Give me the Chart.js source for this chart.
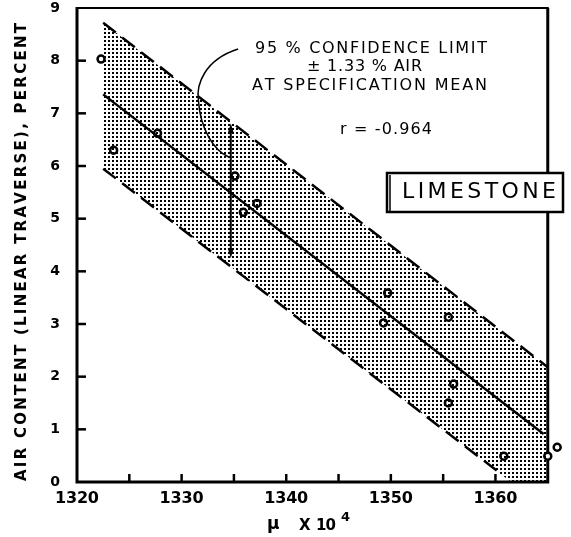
<!DOCTYPE html>
<html>
<head>
<meta charset="utf-8">
<script src="https://cdn.jsdelivr.net/npm/chart.js@4.4.0/dist/chart.umd.min.js"></script>
<style>
html, body { margin: 0; padding: 0; background: #fff; }
#wrap { width: 571px; height: 537px; }
</style>
</head>
<body>
<div id="wrap"><canvas id="chart" width="571" height="537"></canvas></div>
<script>
// measured specimens: mu x 10^4 against air content (%)
const muValues  = [1322.3, 1323.5, 1327.7, 1335.1, 1335.9, 1337.2, 1349.7, 1349.3, 1355.5, 1356.0, 1355.5, 1360.8, 1365.0, 1365.9];
const airValues = [8.03, 6.30, 6.62, 5.81, 5.12, 5.29, 3.59, 3.02, 3.13, 1.86, 1.50, 0.49, 0.49, 0.66];

// regression line and 95 % confidence limits
const fitX = [1322.5, 1364.6];
const fitY = [7.36, 0.91];
const upperX = [1322.5, 1365];
const upperY = [8.72, 2.18];
const lowerX = [1322.5, 1360.3];
const lowerY = [5.95, 0.19];
// lower edge of the shaded band (runs along the x axis at the right)
const floorX = [1322.5, 1361.5, 1365];
const floorY = [5.95, 0, 0];

// double arrow and leader curve of the note
const arrowX = 1334.7;
const arrowY = [4.25, 6.81];
const leaderX = [1335.4, 1332.1, 1331.4, 1331.6, 1331.8, 1333.1, 1334.5];
const leaderY = [8.22, 8.01, 7.53, 7.25, 6.68, 6.30, 6.17];

const xMin = 1320, xEnd = 1365, xMax = 1366.6;
const yMin = 0, yMax = 9;
const xLabelTicks = [1320, 1330, 1340, 1350, 1360];
const xMarkTicks = [1325, 1330, 1335, 1340, 1345, 1350, 1355, 1360];
const yLabelTicks = [0, 1, 2, 3, 4, 5, 6, 7, 8, 9];
const yMarkTicks = [1, 2, 3, 4, 5, 6, 7, 8];

const noteLines = ['95 % CONFIDENCE LIMIT', '\u00B1 1.33 % AIR', 'AT SPECIFICATION MEAN'];
const corrText = 'r = -0.964';
const boxText = 'LIMESTONE';
const yTitle = 'AIR CONTENT (LINEAR TRAVERSE), PERCENT';

const FONT = '"DejaVu Sans", sans-serif';

function pts(xs, ys) {
    return xs.map((x, i) => ({ x: x, y: ys[i] }));
}

// draw text letter by letter so it spans a given width
function spaced(ctx, text, x, y, width) {
    const chars = [...text];
    const raw = chars.reduce((s, c) => s + ctx.measureText(c).width, 0);
    const gap = chars.length > 1 ? (width - raw) / (chars.length - 1) : 0;
    let cx = x;
    chars.forEach(c => {
        ctx.fillText(c, cx, y);
        cx += ctx.measureText(c).width + gap;
    });
}

const canvas = document.getElementById('chart');
const ctx0 = canvas.getContext('2d');

function makeStipple() {
    const c = document.createElement('canvas');
    c.width = 4; c.height = 4;
    const g = c.getContext('2d');
    g.fillStyle = '#000';
    g.fillRect(0, 0, 2, 2);
    return ctx0.createPattern(c, 'repeat');
}

const framePlugin = {
    id: 'frame',
    beforeDatasetsDraw(chart) {
        const { ctx, chartArea: a, scales: { x, y } } = chart;
        const right = x.getPixelForValue(xEnd);
        ctx.save();
        ctx.strokeStyle = '#000';
        ctx.lineCap = 'butt';
        ctx.lineWidth = 3;
        ctx.beginPath();
        ctx.moveTo(a.left, a.top - 1); ctx.lineTo(a.left, a.bottom);
        ctx.lineTo(right, a.bottom); ctx.lineTo(right, a.top);
        ctx.stroke();
        ctx.lineWidth = 2;
        ctx.beginPath();
        ctx.moveTo(a.left, a.top); ctx.lineTo(right + 1, a.top);
        ctx.stroke();
        // inward ticks
        ctx.lineWidth = 2.5;
        yMarkTicks.forEach(v => {
            const py = y.getPixelForValue(v);
            ctx.beginPath(); ctx.moveTo(a.left, py); ctx.lineTo(a.left + 9, py); ctx.stroke();
        });
        xMarkTicks.forEach(v => {
            const px = x.getPixelForValue(v);
            ctx.beginPath(); ctx.moveTo(px, a.bottom); ctx.lineTo(px, a.bottom - 8); ctx.stroke();
        });
        // tick labels
        ctx.fillStyle = '#000';
        ctx.textBaseline = 'middle';
        ctx.textAlign = 'left';
        ctx.font = 'bold 16px ' + FONT;
        xLabelTicks.forEach(v => {
            const px = x.getPixelForValue(v);
            spaced(ctx, String(v), px - 22, a.bottom + 17, 44);
        });
        ctx.font = 'bold 14px ' + FONT;
        ctx.textAlign = 'center';
        yLabelTicks.forEach(v => {
            ctx.fillText(String(v), 55, y.getPixelForValue(v));
        });
        ctx.restore();
    },
    afterDraw(chart) {
        const { ctx, scales: { x, y } } = chart;
        ctx.save();
        ctx.fillStyle = '#000';
        ctx.strokeStyle = '#000';
        ctx.textBaseline = 'middle';
        ctx.textAlign = 'left';

        // note text
        ctx.font = '16px ' + FONT;
        spaced(ctx, noteLines[0], 255, 49, 232);
        spaced(ctx, noteLines[1], 307, 67, 115);
        spaced(ctx, noteLines[2], 252, 86, 235);
        spaced(ctx, corrText, 340, 130, 92);

        // leader curve
        const lp = leaderX.map((v, i) => [x.getPixelForValue(v), y.getPixelForValue(leaderY[i])]);
        ctx.lineWidth = 1.5;
        ctx.beginPath();
        ctx.moveTo(lp[0][0], lp[0][1]);
        ctx.bezierCurveTo(lp[1][0], lp[1][1], lp[2][0], lp[2][1], lp[3][0], lp[3][1]);
        ctx.bezierCurveTo(lp[4][0], lp[4][1], lp[5][0], lp[5][1], lp[6][0], lp[6][1]);
        ctx.stroke();

        // double arrow
        const ax = x.getPixelForValue(arrowX);
        const ay0 = y.getPixelForValue(arrowY[0]);
        const ay1 = y.getPixelForValue(arrowY[1]);
        ctx.lineWidth = 2;
        ctx.beginPath(); ctx.moveTo(ax, ay0 - 6); ctx.lineTo(ax, ay1 + 6); ctx.stroke();
        ctx.beginPath();
        ctx.moveTo(ax, ay1); ctx.lineTo(ax - 3, ay1 + 10); ctx.lineTo(ax + 3, ay1 + 10); ctx.closePath();
        ctx.moveTo(ax, ay0); ctx.lineTo(ax - 3, ay0 - 10); ctx.lineTo(ax + 3, ay0 - 10); ctx.closePath();
        ctx.fill();

        // LIMESTONE label box
        ctx.fillStyle = '#fff';
        ctx.fillRect(386, 173, 178, 40);
        ctx.lineWidth = 2.5;
        ctx.strokeRect(387, 173, 176, 39);
        ctx.lineWidth = 1.5;
        ctx.beginPath(); ctx.moveTo(390, 175); ctx.lineTo(390, 211); ctx.stroke();
        ctx.fillStyle = '#000';
        ctx.font = '22px ' + FONT;
        spaced(ctx, boxText, 402, 192, 154);

        // y axis title
        ctx.font = 'bold 15px ' + FONT;
        ctx.save();
        ctx.translate(22, 481);
        ctx.rotate(-Math.PI / 2);
        spaced(ctx, yTitle, 0, 0, 458);
        ctx.restore();

        // x axis title: mu x 10^4
        ctx.font = 'bold 17px ' + FONT;
        ctx.textBaseline = 'alphabetic';
        ctx.fillText('\u03BC', 267, 529);
        ctx.font = 'bold 15px ' + FONT;
        ctx.fillText('X', 299, 530);
        spaced(ctx, '10', 316, 530, 20);
        ctx.font = 'bold 13px ' + FONT;
        ctx.fillText('4', 341, 521);
        ctx.restore();
    }
};

const stipple = makeStipple();

new Chart(canvas, {
    type: 'scatter',
    data: {
        datasets: [
            {
                label: 'band floor',
                type: 'line',
                data: pts(floorX, floorY),
                borderWidth: 0,
                borderColor: 'rgba(0,0,0,0)',
                pointRadius: 0,
                fill: false
            },
            {
                label: 'band',
                type: 'line',
                data: pts(upperX, upperY),
                borderWidth: 0,
                borderColor: 'rgba(0,0,0,0)',
                backgroundColor: stipple,
                pointRadius: 0,
                fill: '-1'
            },
            {
                label: 'upper limit',
                type: 'line',
                data: pts(upperX, upperY),
                borderColor: '#000',
                borderWidth: 2.5,
                borderDash: [16, 8],
                pointRadius: 0,
                fill: false
            },
            {
                label: 'lower limit',
                type: 'line',
                data: pts(lowerX, lowerY),
                borderColor: '#000',
                borderWidth: 2.5,
                borderDash: [16, 8],
                pointRadius: 0,
                fill: false
            },
            {
                label: 'regression',
                type: 'line',
                data: pts(fitX, fitY),
                borderColor: '#000',
                borderWidth: 2.5,
                pointRadius: 0,
                fill: false
            },
            {
                label: 'specimens',
                data: pts(muValues, airValues),
                pointRadius: 3.5,
                pointBorderWidth: 2.5,
                pointBorderColor: '#000',
                pointBackgroundColor: '#fff',
                clip: false
            }
        ]
    },
    options: {
        responsive: false,
        animation: false,
        layout: { padding: { top: 8, right: 3, left: 0, bottom: 0 } },
        plugins: { legend: { display: false }, tooltip: { enabled: false } },
        scales: {
            x: {
                type: 'linear',
                min: xMin,
                max: xMax,
                grid: { display: false, drawTicks: false },
                border: { display: false },
                ticks: { display: false },
                afterFit: scale => {
                    scale.height = 55;
                    scale.paddingLeft = 0; scale.paddingRight = 0;
                }
            },
            y: {
                min: yMin,
                max: yMax,
                grid: { display: false, drawTicks: false },
                border: { display: false },
                ticks: { display: false, stepSize: 1 },
                afterFit: scale => {
                    scale.width = 77;
                    scale.paddingTop = 0; scale.paddingBottom = 0;
                }
            }
        }
    },
    plugins: [framePlugin]
});
</script>
</body>
</html>
